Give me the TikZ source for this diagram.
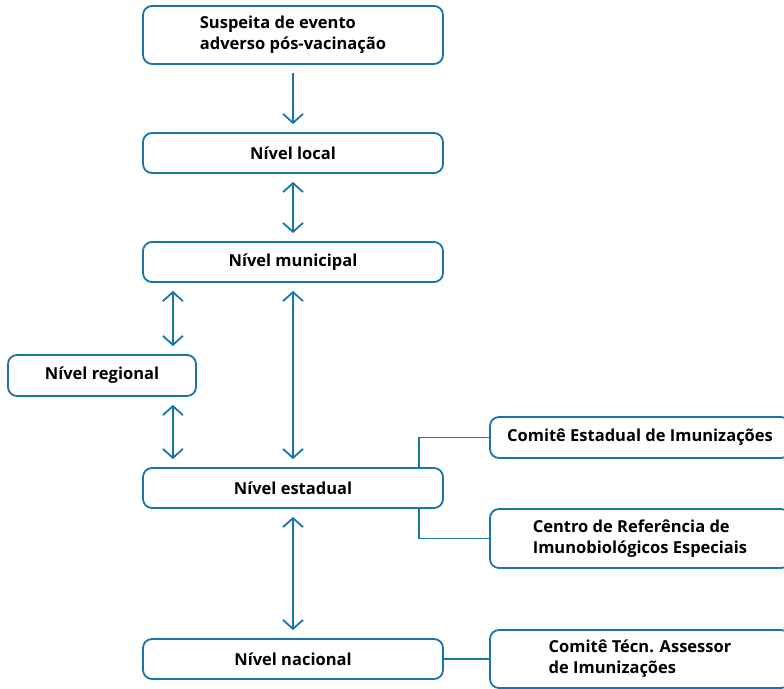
\documentclass[tikz,border=0pt]{standalone}
\usepackage{fontspec}
\setmainfont{Open Sans}
\usetikzlibrary{arrows.meta}
\definecolor{azul}{RGB}{22,117,170}

\begin{document}
\begin{tikzpicture}[
    x=1pt, y=-1pt, % unidades em pixels, y para baixo
    font=\fontsize{16.5}{21}\selectfont\bfseries,
    caixa/.style={draw=azul, line width=1.8pt, rounded corners=9pt, fill=white,
      minimum width=300pt, minimum height=40pt, align=left, inner sep=0pt}, % caixas
    seta/.style={azul, line width=1.8pt, shorten >=8pt, shorten <=8pt,
      -{Straight Barb[length=9pt,width=20pt]}}, % seta simples
    setas/.style={seta, {Straight Barb[length=9pt,width=20pt]}-{Straight Barb[length=9pt,width=20pt]}}, % seta dupla
    liga/.style={azul, line width=1.8pt} % ligações sem seta
]
    \useasboundingbox (0,0) rectangle (784,688);
    \clip (0,0) rectangle (784,688);

    % --- Ligações às comissões ---
    \coordinate (barra) at (419,488);

    % --- Caixas ---
    \node[caixa, minimum height=58pt] (suspeita) at (293,35) {Suspeita de evento\\adverso pós-vacinação};
    \node[caixa] (local) at (293,153) {Nível local};
    \node[caixa] (municipal) at (293,262) {Nível municipal};
    \node[caixa, minimum width=188pt, minimum height=41pt] (regional) at (102,375.5) {Nível regional};
    \node[caixa] (estadual) at (293,488) {Nível estadual};
    \node[caixa] (nacional) at (293,659) {Nível nacional};
    \node[caixa, minimum height=41pt] (cei) at (640,437.5) {Comitê Estadual de Imunizações};
    \node[caixa, minimum height=59pt] (crie) at (640,538.5) {Centro de Referência de\\Imunobiológicos Especiais};
    \node[caixa, minimum height=58pt] (ctai) at (640,659) {Comitê Técn. Assessor\\de Imunizações};

    % --- Setas ---
    \draw[seta] (suspeita) -- (local);
    \draw[setas] (local) -- (municipal);
    \draw[setas] ([xshift=-24pt]regional.north east |- municipal.south) -- ([xshift=-24pt]regional.north east);
    \draw[setas] ([xshift=-24pt]regional.south east) -- ([xshift=-24pt]regional.south east |- estadual.north);
    \draw[setas] (municipal) -- (estadual);
    \draw[setas] (estadual) -- (nacional);

    % Linhas de ligação
    \draw[liga] (cei.west) -| (barra |- estadual.north);
    \draw[liga] (crie.west) -| (barra |- estadual.south);
    \draw[liga] (nacional) -- (ctai);

\end{tikzpicture}
\end{document}
